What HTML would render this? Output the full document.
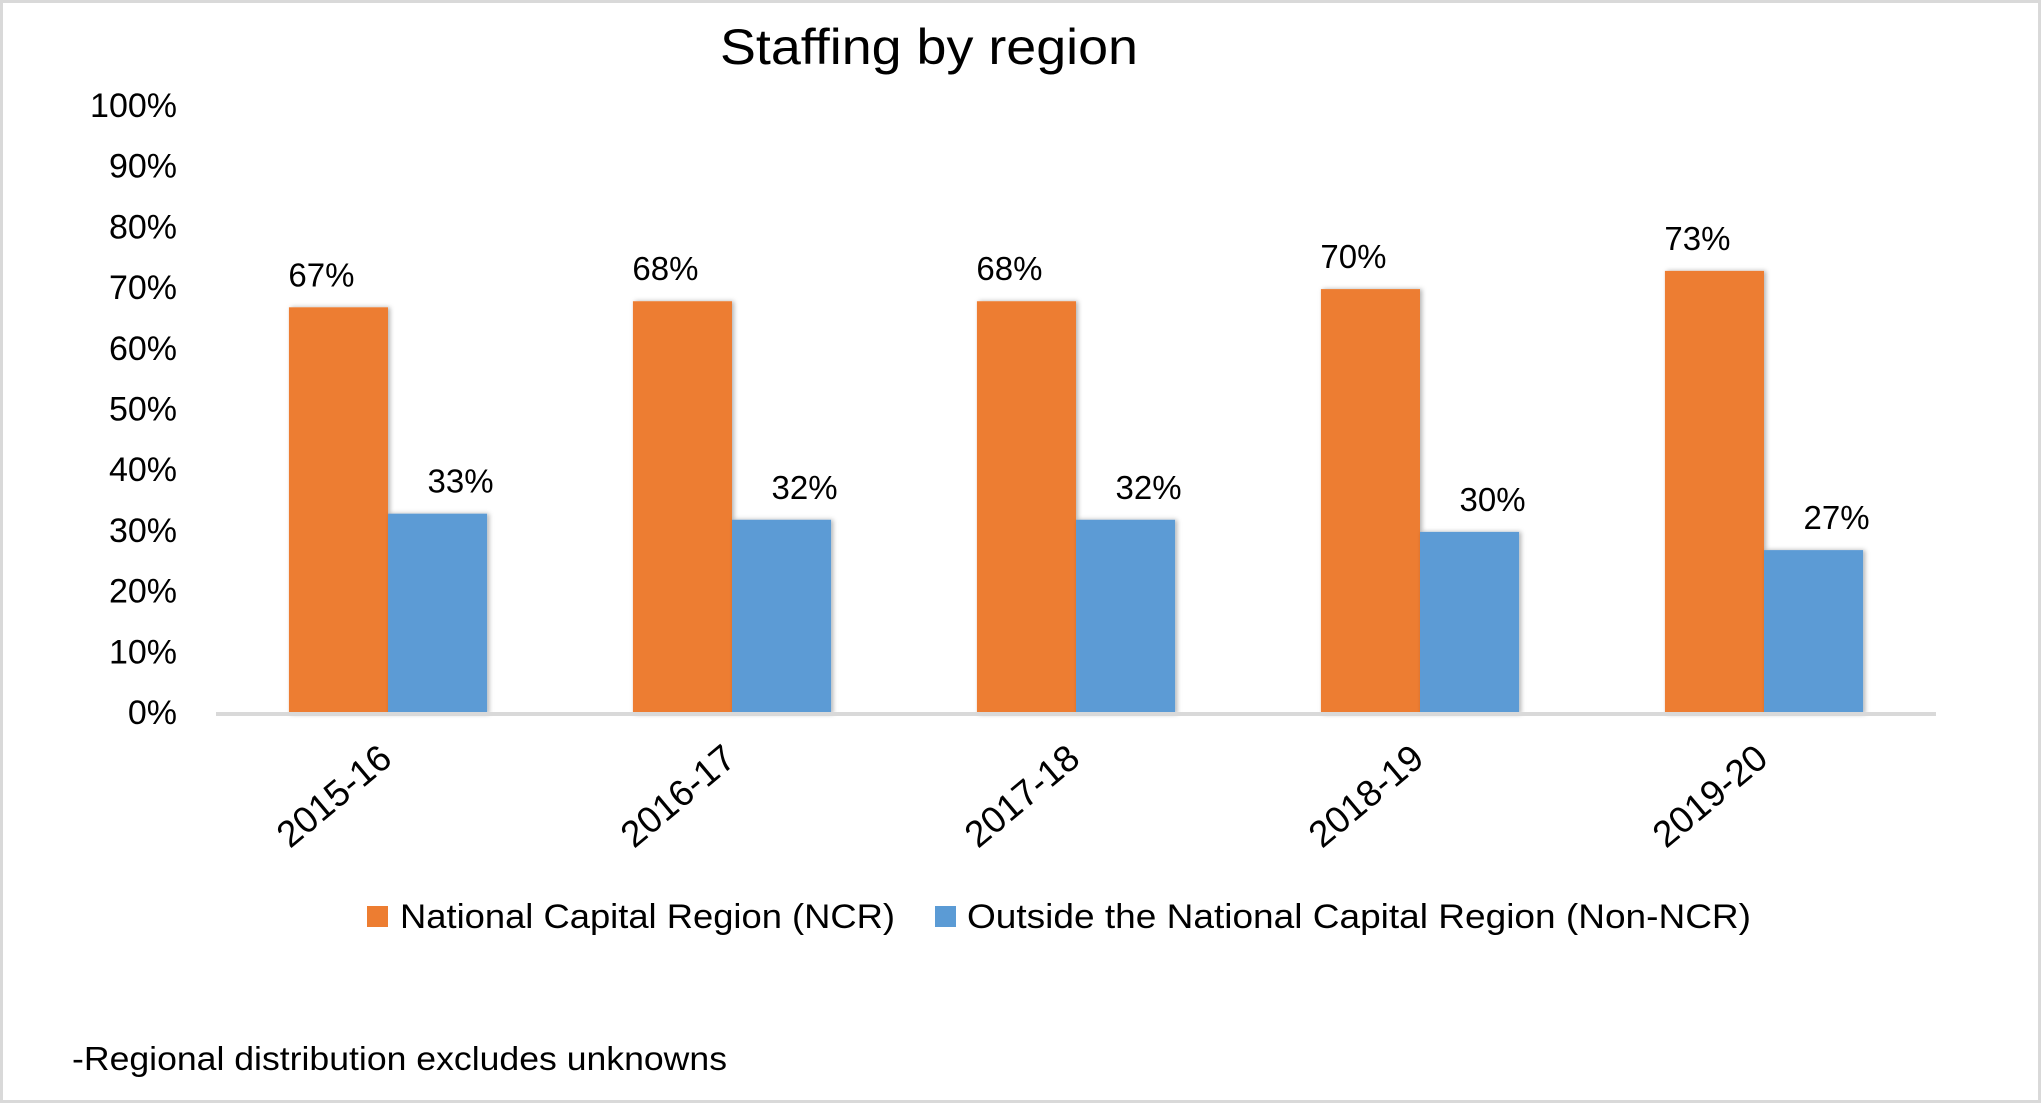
<!DOCTYPE html>
<html><head><meta charset="utf-8"><style>
html,body{margin:0;padding:0;background:#fff;}
svg{display:block;font-family:"Liberation Sans",sans-serif;}
</style></head><body>
<svg id="chart" width="2041" height="1103" viewBox="0 0 2041 1103" xmlns="http://www.w3.org/2000/svg">
<defs><filter id="sh" x="-20%" y="-5%" width="140%" height="110%"><feDropShadow dx="2" dy="0" stdDeviation="2.5" flood-color="#000" flood-opacity="0.3"/></filter></defs>
<rect x="1.5" y="1.5" width="2038" height="1100" fill="#fff" stroke="#d9d9d9" stroke-width="3"/>
<text x="929" y="64" text-anchor="middle" font-size="50" fill="#000" textLength="418" lengthAdjust="spacingAndGlyphs">Staffing by region</text>
<g id="yaxis"></g>
<g id="bars"></g>
<g id="xaxis"></g>
<rect x="216" y="712" width="1720" height="4" fill="#d9d9d9"/>
<g>
<rect x="367" y="906" width="21" height="21" fill="#ED7D31"/>
<text x="400" y="928" font-size="34" textLength="495" lengthAdjust="spacingAndGlyphs">National Capital Region (NCR)</text>
<rect x="935" y="906" width="21" height="21" fill="#5B9BD5"/>
<text x="967" y="928" font-size="34" textLength="784" lengthAdjust="spacingAndGlyphs">Outside the National Capital Region (Non-NCR)</text>
</g>
<text x="72" y="1070" font-size="33" textLength="655" lengthAdjust="spacingAndGlyphs">-Regional distribution excludes unknowns</text>
</svg>
<script>
const categories = ["2015-16","2016-17","2017-18","2018-19","2019-20"];
const ncrValues = [67,68,68,70,73];
const nonNcrValues = [33,32,32,30,27];
const yTicks = [0,10,20,30,40,50,60,70,80,90,100];

const NS = "http://www.w3.org/2000/svg";
const plotLeft = 216, plotRight = 1936, yTop = 107, yBottom = 714;
const groupW = (plotRight - plotLeft) / categories.length;
const barW = groupW * 0.288;
function yScale(v){ return yBottom - (v/100)*(yBottom - yTop); }
function xCenter(i){ return plotLeft + groupW*(i+0.5); }
function mk(tag, attrs, parent){ const e=document.createElementNS(NS,tag); for(const k in attrs) e.setAttribute(k,attrs[k]); parent.appendChild(e); return e; }

const yg = document.getElementById('yaxis');
yTicks.forEach(t=>{
  const el = mk('text',{x:177,y:yScale(t)+10,'text-anchor':'end','font-size':34,fill:'#000'},yg);
  
  
  el.textContent = t + '%';
});

const bg = document.getElementById('bars');
const xg = document.getElementById('xaxis');
categories.forEach((c,i)=>{
  const cx = xCenter(i);
  const y1 = yScale(ncrValues[i]);
  const b1 = mk('rect',{x:cx-barW,y:y1,width:barW,height:yBottom-y1,fill:'#ED7D31',filter:'url(#sh)'},bg);
  
  
  const y2 = yScale(nonNcrValues[i]);
  const b2 = mk('rect',{x:cx,y:y2,width:barW,height:yBottom-y2,fill:'#5B9BD5',filter:'url(#sh)'},bg);
  
  
  const l1 = mk('text',{x:cx-barW/2-17,y:y1-21,'text-anchor':'middle','font-size':33},bg);
  
  
  l1.textContent = ncrValues[i]+'%';
  const l2 = mk('text',{x:cx+barW/2+23,y:y2-21,'text-anchor':'middle','font-size':33},bg);
  
  
  l2.textContent = nonNcrValues[i]+'%';
  const ax = cx+6, ay = 762;
  const xl = mk('text',{x:ax,y:ay,'text-anchor':'end','font-size':37,transform:`rotate(-40 ${ax} ${ay})`},xg);
  
  
  xl.textContent = c;
});
</script>
</body></html>
